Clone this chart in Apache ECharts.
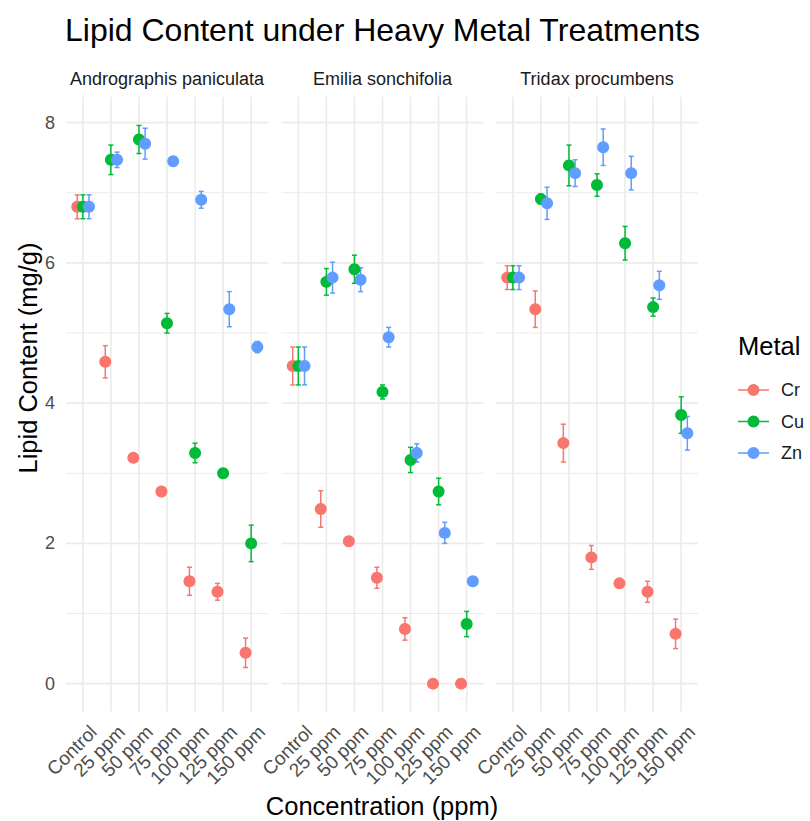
<!DOCTYPE html>
<html><head><meta charset="utf-8">
<script src="https://cdn.jsdelivr.net/npm/echarts@6/dist/echarts.min.js"></script>
<style>html,body{margin:0;padding:0;background:#fff}#chart{width:810px;height:821px}</style>
</head><body><div id="chart"></div>
<script>
// ---------- data ----------
const categories = ['Control', '25 ppm', '50 ppm', '75 ppm', '100 ppm', '125 ppm', '150 ppm'];
const species = ['Andrographis paniculata', 'Emilia sonchifolia', 'Tridax procumbens'];
const metals = ['Cr', 'Cu', 'Zn'];
const yTickLabels = [0, 2, 4, 6, 8];
const yGridValues = [0, 1, 2, 3, 4, 5, 6, 7, 8];

// Andrographis paniculata (mean lipid, mg/g) and error (±)
const apCr = [6.80, 4.59, 3.22, 2.74, 1.46, 1.31, 0.44];
const apCu = [6.80, 7.47, 7.76, 5.14, 3.29, 3.00, 2.00];
const apZn = [6.80, 7.47, 7.70, 7.45, 6.90, 5.34, 4.80];
const apCrErr = [0.17, 0.23, 0.05, 0.05, 0.20, 0.12, 0.21];
const apCuErr = [0.17, 0.21, 0.20, 0.14, 0.14, 0.05, 0.26];
const apZnErr = [0.17, 0.11, 0.22, 0.05, 0.12, 0.25, 0.08];

// Emilia sonchifolia
const esCr = [4.53, 2.49, 2.03, 1.51, 0.78, 0.00, 0.00];
const esCu = [4.53, 5.73, 5.91, 4.16, 3.19, 2.74, 0.85];
const esZn = [4.53, 5.79, 5.76, 4.94, 3.29, 2.15, 1.46];
const esCrErr = [0.27, 0.26, 0.05, 0.15, 0.16, 0.00, 0.00];
const esCuErr = [0.27, 0.19, 0.20, 0.10, 0.18, 0.19, 0.18];
const esZnErr = [0.27, 0.22, 0.17, 0.14, 0.13, 0.15, 0.05];

// Tridax procumbens
const tpCr = [5.79, 5.34, 3.43, 1.80, 1.43, 1.31, 0.71];
const tpCu = [5.79, 6.91, 7.39, 7.11, 6.28, 5.37, 3.83];
const tpZn = [5.79, 6.85, 7.28, 7.65, 7.28, 5.68, 3.57];
const tpCrErr = [0.17, 0.26, 0.27, 0.17, 0.06, 0.15, 0.21];
const tpCuErr = [0.17, 0.07, 0.29, 0.16, 0.24, 0.13, 0.26];
const tpZnErr = [0.17, 0.23, 0.19, 0.26, 0.24, 0.20, 0.24];

// ---------- styling ----------
const FONT = '"Liberation Sans", Arial, Helvetica, sans-serif';
const colors = ['#F8766D', '#00BA38', '#619CFF'];
const dodge = [-0.2, 0, 0.22];
const panelLeft = [66, 281.5, 496];
const panelWidth = 202;
const panelTop = 96.7;
const panelHeight = 615;
const yMin = -0.4, yMax = 8.37;
const labelShift = 0.38;

const panelValues = [[apCr, apCu, apZn], [esCr, esCu, esZn], [tpCr, tpCu, tpZn]];
const panelErrs = [[apCrErr, apCuErr, apZnErr], [esCrErr, esCuErr, esZnErr], [tpCrErr, tpCuErr, tpZnErr]];

const grids = [], xAxes = [], yAxes = [], series = [];

function renderErr(params, api) {
  const x = api.value(0), lo = api.value(1), hi = api.value(2);
  const top = api.coord([x, hi]), bot = api.coord([x, lo]);
  const cw = 2.5;
  const style = { stroke: api.visual('color'), lineWidth: 1.5, fill: null };
  return { type: 'group', children: [
    { type: 'line', shape: { x1: top[0], y1: top[1], x2: bot[0], y2: bot[1] }, style: style },
    { type: 'line', shape: { x1: top[0] - cw, y1: top[1], x2: top[0] + cw, y2: top[1] }, style: style },
    { type: 'line', shape: { x1: bot[0] - cw, y1: bot[1], x2: bot[0] + cw, y2: bot[1] }, style: style }
  ]};
}
function renderHGrid(params, api) {
  const v = api.value(1);
  const y = api.coord([0, v])[1];
  const cs = params.coordSys;
  return { type: 'line', shape: { x1: cs.x, y1: y, x2: cs.x + cs.width, y2: y },
    style: { stroke: '#EBEBEB', lineWidth: v % 2 === 0 ? 1.6 : 1.2 } };
}
function renderVGrid(params, api) {
  const x = api.coord([api.value(0), 0])[0];
  const cs = params.coordSys;
  return { type: 'line', shape: { x1: x, y1: cs.y, x2: x, y2: cs.y + cs.height },
    style: { stroke: '#EBEBEB', lineWidth: 1.6 } };
}

species.forEach((sp, p) => {
  grids.push({ left: panelLeft[p], top: panelTop, width: panelWidth, height: panelHeight, containLabel: false });
  xAxes.push({
    type: 'value', gridIndex: p, min: -0.6, max: 6.6,
    axisLine: { show: false }, axisTick: { show: false }, splitLine: { show: false },
    axisLabel: {
      customValues: categories.map((c, i) => i + labelShift),
      formatter: v => categories[Math.round(v - labelShift)],
      rotate: 45, margin: 17, fontSize: 19, color: '#4D4D4D', fontFamily: FONT
    }
  });
  yAxes.push({
    type: 'value', gridIndex: p, min: yMin, max: yMax,
    axisLine: { show: false }, axisTick: { show: false }, splitLine: { show: false },
    axisLabel: {
      show: p === 0, customValues: yTickLabels, margin: 11,
      fontSize: 18, color: '#4D4D4D', fontFamily: FONT
    }
  });
  series.push({
    type: 'custom', xAxisIndex: p, yAxisIndex: p, silent: true, z: 0,
    renderItem: renderHGrid, data: yGridValues.map(v => [0, v]), encode: { x: 0, y: 1 }
  });
  series.push({
    type: 'custom', xAxisIndex: p, yAxisIndex: p, silent: true, z: 0,
    renderItem: renderVGrid, data: categories.map((c, i) => [i, 0]), encode: { x: 0, y: 1 }
  });
  metals.forEach((m, k) => {
    const vals = panelValues[p][k], errs = panelErrs[p][k];
    series.push({
      name: m, type: 'custom', xAxisIndex: p, yAxisIndex: p, z: 2,
      itemStyle: { color: colors[k] },
      renderItem: renderErr,
      encode: { x: 0, y: [1, 2] },
      data: vals.map((v, i) => [i + dodge[k], v - errs[i], v + errs[i]])
    });
  });
  metals.forEach((m, k) => {
    const vals = panelValues[p][k];
    series.push({
      name: m, type: 'scatter', xAxisIndex: p, yAxisIndex: p, z: 3,
      symbol: 'circle', symbolSize: 12,
      itemStyle: { color: colors[k], opacity: 1 },
      data: vals.map((v, i) => [i + dodge[k], v])
    });
  });
});

const graphics = [
  { type: 'text', x: 65, y: 30, style: { text: 'Lipid Content under Heavy Metal Treatments', fontSize: 32, fontFamily: FONT, fill: '#000', textAlign: 'left', textVerticalAlign: 'middle' } },
  { type: 'text', x: 382, y: 806, style: { text: 'Concentration (ppm)', fontSize: 25.5, fontFamily: FONT, fill: '#000', textAlign: 'center', textVerticalAlign: 'middle' } },
  { type: 'text', x: 28, y: 358, rotation: Math.PI / 2, style: { text: 'Lipid Content (mg/g)', fontSize: 25.5, fontFamily: FONT, fill: '#000', textAlign: 'center', textVerticalAlign: 'middle' } },
  { type: 'text', x: 738, y: 346, style: { text: 'Metal', fontSize: 25.5, fontFamily: FONT, fill: '#000', textAlign: 'left', textVerticalAlign: 'middle' } }
];
species.forEach((sp, p) => {
  graphics.push({ type: 'text', x: panelLeft[p] + panelWidth / 2, y: 79, style: { text: sp, fontSize: 18, fontFamily: FONT, fill: '#1A1A1A', textAlign: 'center', textVerticalAlign: 'middle' } });
});

const chart = echarts.init(document.getElementById('chart'), null, { renderer: 'svg' });
chart.setOption({
  backgroundColor: '#fff',
  animation: false,
  grid: grids, xAxis: xAxes, yAxis: yAxes, series: series,
  legend: {
    data: metals, orient: 'vertical', left: 738, top: 380, padding: 0,
    itemWidth: 31, itemHeight: 12, itemGap: 11.5, selectedMode: false,
    icon: 'path://M0 5.25H31V6.75H0Z M9.5 6A6 6 0 1 1 21.5 6A6 6 0 1 1 9.5 6Z',
    textStyle: { fontSize: 18, color: '#1A1A1A', fontFamily: FONT, lineHeight: 20, padding: [0, 0, 0, 7] }
  },
  graphic: graphics
});
</script></body></html>
